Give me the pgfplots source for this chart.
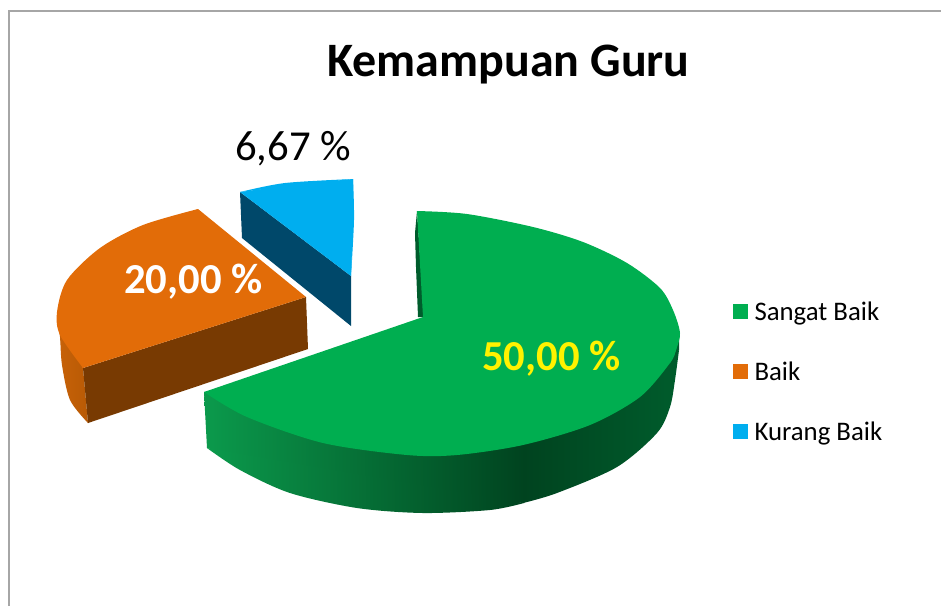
\documentclass[border=0pt]{standalone}
\usepackage{fontspec}
\setmainfont{Carlito}
\usepackage{pgfplots}
\pgfplotsset{compat=1.18}
\definecolor{gr}{HTML}{00AE50}
\definecolor{or}{HTML}{E26C08}
\definecolor{bl}{HTML}{00AEEF}
\definecolor{ordk}{HTML}{783A02}
\definecolor{bldk}{HTML}{00486A}
\definecolor{frameg}{HTML}{A6A6A6}
\definecolor{sa}{RGB}{11,154,76}
\definecolor{sb}{RGB}{0,67,31}
\definecolor{sc}{RGB}{0,92,44}
\definecolor{oa}{RGB}{200,98,8}
\definecolor{ob}{RGB}{184,90,5}
\begin{document}
\begin{tikzpicture}
\useasboundingbox (0,0) rectangle (941pt,606pt);
\begin{axis}[
  scale only axis, width=941pt, height=606pt,
  xmin=0, xmax=941, ymin=0, ymax=606, y dir=reverse,
  hide axis, clip=true,
  legend cell align=left,
  legend image code/.code={\fill[#1] (0pt,-5pt) rectangle (15pt,10pt);},
  legend style={at={(axis cs:733,300)}, anchor=north west, draw=none, fill=none,
    inner sep=0pt, outer sep=0pt, row sep=33pt, column sep=6.5pt,
    font=\fontsize{26.8}{30}\selectfont,
    nodes={inner sep=0pt, outer sep=0pt, text height=20pt, text depth=7pt}},
]
% frame
\addplot[frameg, line width=2pt, forget plot] coordinates {(8.5,606) (8.5,11) (941,11)};
% green side, left part
\addplot[draw=none, forget plot, left color=sa, right color=sb]
 coordinates {(204,392)(207,448)(365,490)(524,503)(524,445)} --cycle;
\addplot[draw=none, forget plot, smooth, left color=sa, right color=sb]
 coordinates {(207,448)(240,470)(290,493)(357,508)(423,513)(490,510)(524,503)} --cycle;
% green side, right part
\addplot[draw=none, forget plot, left color=sb, right color=sc]
 coordinates {(523,503)(610,460)(679,350)(679,333)(523,445)} --cycle;
\addplot[draw=none, forget plot, smooth, left color=sb, right color=sc]
 coordinates {(523,503)(557,493)(617,467)(657,433)(670,407)(675,380)(679,350)} --cycle;
% green inner sliver
\addplot[fill=sc, draw=none, forget plot]
 coordinates {(417,211)(415,233)(416,267)(418,317)(424,317)} --cycle;
% green top
\addplot[fill=gr, draw=none, forget plot, smooth]
 coordinates {(417,211)(467,214)(533,227)(583,242)(627,263)(660,288)(673,310)(680,333)(676,350)(670,363)} --cycle;
\addplot[fill=gr, draw=none, forget plot, smooth]
 coordinates {(680,333)(676,350)(670,363)(640,397)(590,425)(523,445)(457,455)(407,455)(323,443)(247,417)(204,392)} --cycle;
\addplot[fill=gr, draw=none, forget plot]
 coordinates {(417,211)(600,258)(675,333)(635,392)(523,440)(407,450)(300,432)(204,392)(423,317)} --cycle;
% orange
\addplot[draw=none, forget plot, smooth, left color=oa, right color=ob]
 coordinates {(57,312)(60,337)(62,365)(70,400)(88,423)} --cycle;
\addplot[draw=none, forget plot, left color=oa, right color=ob]
 coordinates {(57,312)(64,367)(88,423)(83,368)} --cycle;
\addplot[fill=ordk, draw=none, forget plot]
 coordinates {(83,368)(306,297)(308,349)(88,423)} --cycle;
\addplot[fill=or, draw=none, forget plot, smooth]
 coordinates {(198,209)(143,225)(100,248)(67,280)(57,312)(60,335)(83,368)} --cycle;
\addplot[fill=or, draw=none, forget plot]
 coordinates {(198,209)(306,297)(83,368)(65,315)(105,250)} --cycle;
% blue
\addplot[fill=bldk, draw=none, forget plot]
 coordinates {(240,192)(351,276)(351,326)(242,238)} --cycle;
\addplot[fill=bl, draw=none, forget plot, smooth]
 coordinates {(240,192)(285,183)(353,179)} --cycle;
\addplot[fill=bl, draw=none, forget plot, smooth]
 coordinates {(353,179)(354,220)(351,276)} --cycle;
\addplot[fill=bl, draw=none, forget plot]
 coordinates {(240,192)(300,184)(353,179)(353,225)(351,276)} --cycle;
% legend
\addlegendimage{fill=gr, draw=none}\addlegendentry{Sangat Baik}
\addlegendimage{fill=or, draw=none}\addlegendentry{Baik}
\addlegendimage{fill=bl, draw=none}\addlegendentry{Kurang Baik}
% text
\node[anchor=base, font=\fontsize{48}{52}\selectfont\bfseries] at (axis cs:508.5,76) {Kemampuan Guru};
\node[anchor=base, font=\fontsize{42.7}{50}\selectfont] at (axis cs:293,160) {6,67 \%};
\node[anchor=base, text=white, font=\fontsize{42.7}{50}\selectfont\bfseries] at (axis cs:193.5,293) {20,00 \%};
\node[anchor=base, text=yellow, font=\fontsize{42.7}{50}\selectfont\bfseries] at (axis cs:551.5,370) {50,00 \%};
\end{axis}
\end{tikzpicture}
\end{document}
